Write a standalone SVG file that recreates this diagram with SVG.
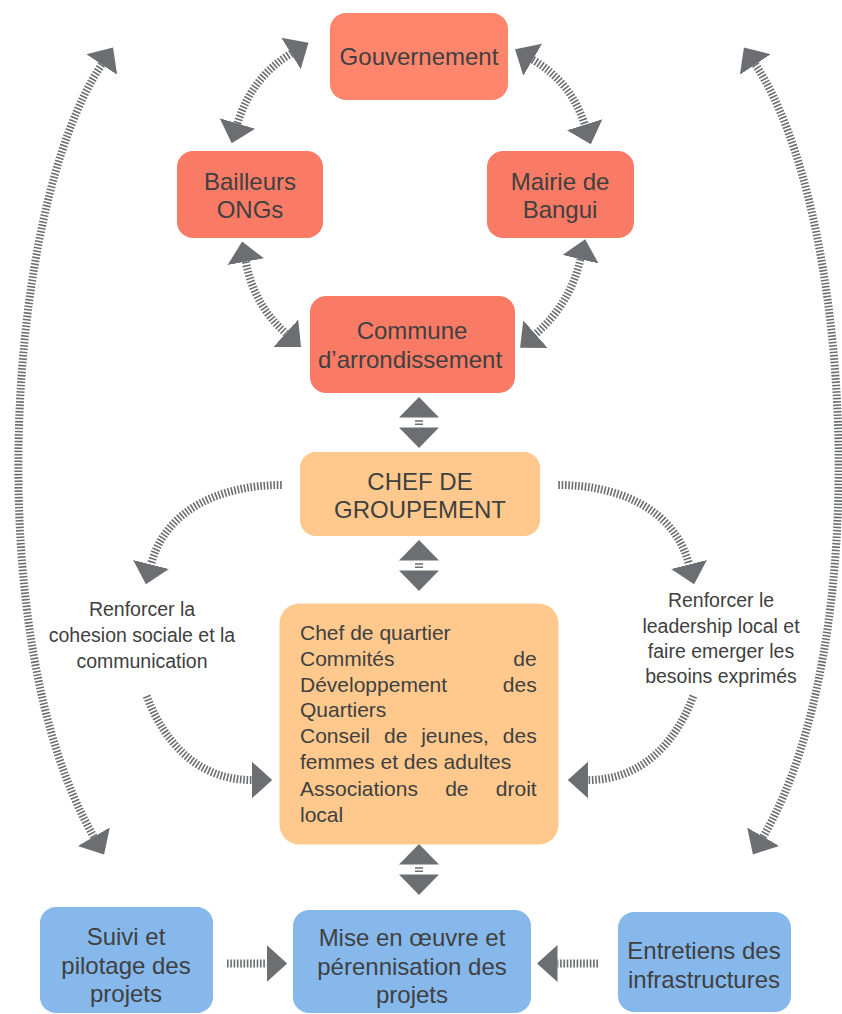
<svg xmlns="http://www.w3.org/2000/svg" width="842" height="1014" viewBox="0 0 842 1014">
<style>
.t{font-family:"Liberation Sans",Arial,sans-serif;fill:#404040}
.h{font-size:24px;text-anchor:middle}
.b{font-size:21px}
.s{font-size:19.5px;text-anchor:middle}
.gov{fill:#FF866C}
.red{fill:#FA7B65}
.peach{fill:#FFC98D}
.blue{fill:#86B8EC}
.ln{fill:none;stroke:#6D6E71;stroke-width:8;stroke-dasharray:1.6 1.7}
.ah{fill:#6D6E71}
</style>
<defs>
<marker id="ah" markerUnits="userSpaceOnUse" markerWidth="22" markerHeight="40" viewBox="0 0 22 40" refX="0" refY="20" orient="auto-start-reverse">
<path d="M0,1.5 L20.5,20 L0,38.5 Z" fill="#6D6E71"/>
</marker>
</defs>
<rect width="842" height="1014" fill="#ffffff"/>

<g id="connectors">
<path class="ln" d="M237.5,123.5 Q251,78 291,53.5" marker-start="url(#ah)" marker-end="url(#ah)"/>
<path class="ln" d="M532.7,59.7 Q571.5,82.5 584.7,124.7" marker-start="url(#ah)" marker-end="url(#ah)"/>
<path class="ln" d="M245.8,261.7 Q253.6,304.3 285.8,333.3" marker-start="url(#ah)" marker-end="url(#ah)"/>
<path class="ln" d="M580.5,259.2 Q570,303.9 535.5,334.2" marker-start="url(#ah)" marker-end="url(#ah)"/>
<path class="ln" d="M281.7,485 C220,485 165,510 151,564.5" marker-end="url(#ah)"/>
<path class="ln" d="M558.3,485 C620,485 675,510 689,564.5" marker-end="url(#ah)"/>
<path class="ln" d="M146.7,696 C165,745 200,780 251.7,780" marker-end="url(#ah)"/>
<path class="ln" d="M693.3,696 C675,745 640,780 588.3,780" marker-end="url(#ah)"/>
<path class="ln" d="M101.7,64.5 C5,210 -20,640 93.8,836.7" marker-start="url(#ah)" marker-end="url(#ah)"/>
<path class="ln" d="M755.3,64.5 C852,210 877,640 763.2,836.7" marker-start="url(#ah)" marker-end="url(#ah)"/>
<path class="ln" d="M227,963.5 H266.7" marker-end="url(#ah)"/>
<path class="ln" d="M598,963.5 H557.5" marker-end="url(#ah)"/>
<polygon class="ah" points="419,397 439,417.5 399,417.5"/>
<path class="ln" d="M419,420.2 V425.2"/>
<polygon class="ah" points="399,427.5 439,427.5 419,448"/>
<polygon class="ah" points="419,540 439,560.5 399,560.5"/>
<path class="ln" d="M419,563.2 V568.2"/>
<polygon class="ah" points="399,570.5 439,570.5 419,591"/>
<polygon class="ah" points="419,844 439,864.5 399,864.5"/>
<path class="ln" d="M419,867.2 V872.2"/>
<polygon class="ah" points="399,874.5 439,874.5 419,895"/>
</g>

<g id="gouvernement">
<rect class="gov" x="330" y="13" width="178" height="87" rx="16"/>
<text class="t h" x="419" y="65">Gouvernement</text>
</g>
<g id="bailleurs">
<rect class="red" x="177" y="151" width="146" height="87" rx="16"/>
<text class="t h" x="250" y="190">Bailleurs</text>
<text class="t h" x="250" y="218">ONGs</text>
</g>
<g id="mairie">
<rect class="red" x="487" y="151" width="147" height="87" rx="16"/>
<text class="t h" x="560" y="190">Mairie de</text>
<text class="t h" x="560" y="218">Bangui</text>
</g>
<g id="commune">
<rect class="red" x="310" y="296" width="205" height="97" rx="16"/>
<text class="t h" x="412" y="339">Commune</text>
<text class="t h" x="410" y="368">d’arrondissement</text>
</g>
<g id="chef-groupement">
<rect class="peach" x="300" y="452" width="240" height="84" rx="16"/>
<text class="t h" x="420" y="490">CHEF DE</text>
<text class="t h" x="420" y="518">GROUPEMENT</text>
</g>
<g id="quartiers">
<rect class="peach" x="279.5" y="603.5" width="279" height="241" rx="20"/>
<text class="t b" x="300" y="640">Chef de quartier</text>
<text class="t b" x="300" y="666">Commités</text>
<text class="t b" x="536.7" y="666" text-anchor="end">de</text>
<text class="t b" x="300" y="691.5">Développement</text>
<text class="t b" x="536.7" y="691.5" text-anchor="end">des</text>
<text class="t b" x="300" y="717">Quartiers</text>
<text class="t b" x="300" y="743">Conseil</text>
<text class="t b" x="384" y="743">de</text>
<text class="t b" x="421.2" y="743">jeunes,</text>
<text class="t b" x="536.7" y="743" text-anchor="end">des</text>
<text class="t b" x="300" y="769">femmes et des adultes</text>
<text class="t b" x="300" y="795.5">Associations</text>
<text class="t b" x="445.2" y="795.5">de</text>
<text class="t b" x="536.7" y="795.5" text-anchor="end">droit</text>
<text class="t b" x="300" y="821.5">local</text>
</g>
<g id="label-cohesion">
<text class="t s" x="142" y="616">Renforcer la</text>
<text class="t s" x="142" y="642">cohesion sociale et la</text>
<text class="t s" x="142" y="668">communication</text>
</g>
<g id="label-leadership">
<text class="t s" x="721" y="607">Renforcer le</text>
<text class="t s" x="721" y="633">leadership local et</text>
<text class="t s" x="721" y="658">faire emerger les</text>
<text class="t s" x="721" y="683">besoins exprimés</text>
</g>
<g id="suivi">
<rect class="blue" x="40" y="907" width="173" height="106" rx="16"/>
<text class="t h" x="126" y="945">Suivi et</text>
<text class="t h" x="126" y="974">pilotage des</text>
<text class="t h" x="126" y="1002">projets</text>
</g>
<g id="mise-en-oeuvre">
<rect class="blue" x="293" y="910" width="238" height="103" rx="16"/>
<text class="t h" x="412" y="946">Mise en œuvre et</text>
<text class="t h" x="412" y="975">pérennisation des</text>
<text class="t h" x="412" y="1003">projets</text>
</g>
<g id="entretiens">
<rect class="blue" x="618" y="912" width="173" height="100" rx="16"/>
<text class="t h" x="704" y="959">Entretiens des</text>
<text class="t h" x="704" y="988">infrastructures</text>
</g>
</svg>
